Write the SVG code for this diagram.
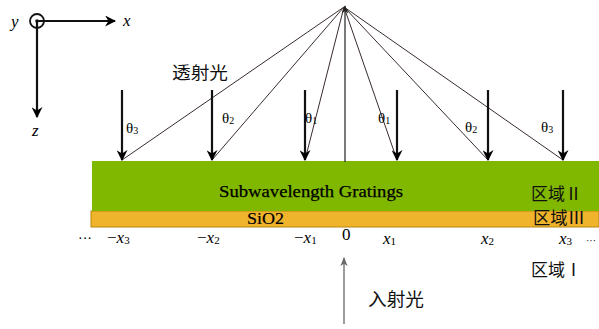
<svg xmlns="http://www.w3.org/2000/svg" width="599" height="329" viewBox="0 0 599 329">
<defs>
<marker id="ah" viewBox="0 0 10 10" refX="9" refY="5" markerWidth="5" markerHeight="5" orient="auto" markerUnits="strokeWidth">
<path d="M0,0 L10,5 L0,10 L3,5 Z" fill="#000"/>
</marker>
<marker id="ahs" viewBox="0 0 10 10" refX="9" refY="5" markerWidth="7" markerHeight="7" orient="auto" markerUnits="strokeWidth">
<path d="M0,1 L10,5 L0,9 L3,5 Z" fill="#222"/>
</marker>
<marker id="ahg" viewBox="0 0 10 10" refX="9" refY="5" markerWidth="7" markerHeight="7" orient="auto" markerUnits="strokeWidth">
<path d="M0,1 L10,5 L0,9 L3,5 Z" fill="#666"/>
</marker>
</defs>
<style>
.thick{stroke:#111;stroke-width:2.2;fill:none;marker-end:url(#ah)}
.ray{stroke:#3a2c2c;stroke-width:1;fill:none}
.serif{font-family:"Liberation Serif","DejaVu Serif",serif;fill:#000}
.cjk{font-family:"Noto Sans CJK SC","Liberation Serif",sans-serif;fill:#111}
</style>
<rect width="599" height="329" fill="#fff"/>
<g id="axes" class="serif" font-style="italic" font-size="17">
<circle cx="37" cy="21" r="7" fill="none" stroke="#111" stroke-width="1.8"/>
<circle cx="37" cy="21" r="1.8" fill="#111"/>
<line x1="37" y1="21" x2="115" y2="21" class="thick"/>
<line x1="37" y1="21" x2="37" y2="117" class="thick"/>
<text x="11" y="27">y</text>
<text x="123" y="26">x</text>
<text x="32" y="136">z</text>
</g>
<g id="substrate">
<rect x="91" y="211" width="508" height="16" fill="#f0b42c" stroke="#b8860b" stroke-width="1"/>
<text x="247" y="224" class="serif" font-size="17" stroke="#000" stroke-width="0.2" textLength="37" lengthAdjust="spacingAndGlyphs">SiO2</text>
</g>
<g id="grating">
<rect x="92" y="161" width="507" height="50" fill="#80b800"/>
<text x="219" y="197" class="serif" font-size="17" stroke="#000" stroke-width="0.25" textLength="184" lengthAdjust="spacingAndGlyphs">Subwavelength Gratings</text>
</g>
<g id="connectors">
<line x1="122" y1="160" x2="344" y2="7" class="ray"/>
<line x1="212" y1="160" x2="344" y2="7" class="ray"/>
<line x1="305" y1="160" x2="344" y2="7" class="ray"/>
<line x1="397" y1="160" x2="344" y2="7" class="ray"/>
<line x1="488" y1="160" x2="344" y2="7" class="ray"/>
<line x1="563" y1="160" x2="344" y2="7" class="ray"/>
<line x1="345" y1="162" x2="345" y2="6" stroke="#222" stroke-width="1.2" marker-end="url(#ahs)"/>
<line x1="122" y1="90" x2="122" y2="160" class="thick"/>
<line x1="212" y1="90" x2="212" y2="160" class="thick"/>
<line x1="305" y1="90" x2="305" y2="160" class="thick"/>
<line x1="397" y1="90" x2="397" y2="160" class="thick"/>
<line x1="488" y1="90" x2="488" y2="160" class="thick"/>
<line x1="563" y1="90" x2="563" y2="160" class="thick"/>
<line x1="344" y1="324" x2="344" y2="258" stroke="#666" stroke-width="1.3" marker-end="url(#ahg)"/>
</g>
<g id="angles" class="serif" font-size="15">
<text x="126" y="133">θ<tspan font-size="10" dy="1">3</tspan></text>
<text x="222" y="123">θ<tspan font-size="10" dy="1">2</tspan></text>
<text x="305" y="123">θ<tspan font-size="10" dy="1">1</tspan></text>
<text x="378" y="123">θ<tspan font-size="10" dy="1">1</tspan></text>
<text x="465" y="132">θ<tspan font-size="10" dy="1">2</tspan></text>
<text x="541" y="132">θ<tspan font-size="10" dy="1">3</tspan></text>
</g>
<g id="labels" class="cjk">
<text x="172" y="79" font-size="17" textLength="56" lengthAdjust="spacingAndGlyphs">透射光</text>
<text x="368" y="306" font-size="18" textLength="56" lengthAdjust="spacingAndGlyphs">入射光</text>
<text x="531" y="200" font-size="17" textLength="51" lengthAdjust="spacingAndGlyphs">区域Ⅱ</text>
<text x="533" y="224" font-size="17" textLength="52" lengthAdjust="spacingAndGlyphs">区域Ⅲ</text>
<text x="531" y="276" font-size="17" textLength="51" lengthAdjust="spacingAndGlyphs">区域Ⅰ</text>
</g>
<g id="ticks" class="serif" font-size="17">
<text x="78" y="243" font-size="14">···</text>
<text x="107" y="243">−<tspan font-style="italic">x</tspan><tspan font-size="11" dy="1">3</tspan></text>
<text x="197" y="243">−<tspan font-style="italic">x</tspan><tspan font-size="11" dy="1">2</tspan></text>
<text x="294" y="243">−<tspan font-style="italic">x</tspan><tspan font-size="11" dy="1">1</tspan></text>
<text x="342" y="240">0</text>
<text x="383" y="244"><tspan font-style="italic">x</tspan><tspan font-size="11" dy="1">1</tspan></text>
<text x="481" y="244"><tspan font-style="italic">x</tspan><tspan font-size="11" dy="1">2</tspan></text>
<text x="559" y="244"><tspan font-style="italic">x</tspan><tspan font-size="11" dy="1">3</tspan></text>
<text x="586" y="244" font-size="10">···</text>
</g>
</svg>
